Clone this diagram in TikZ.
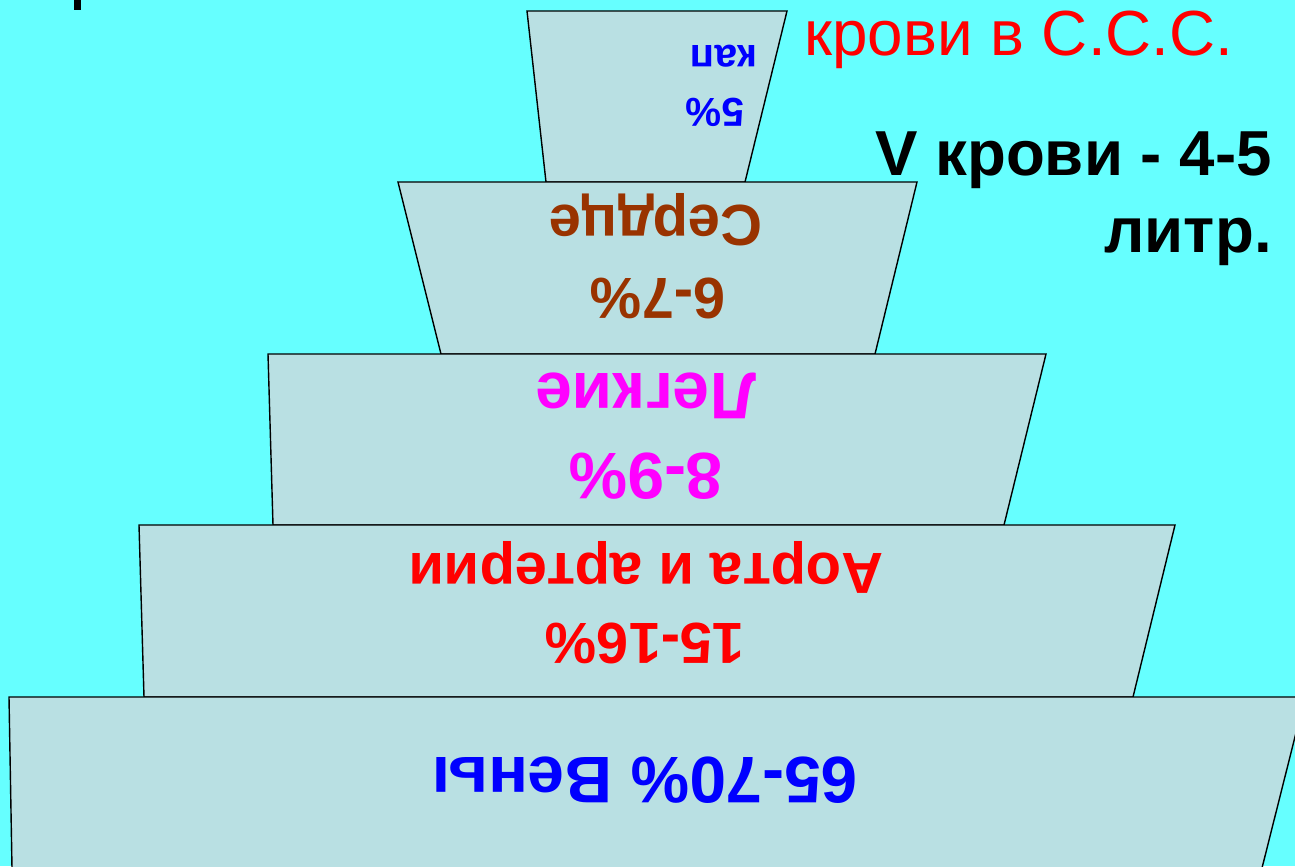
\documentclass[tikz,border=0pt]{standalone}
\usepackage{fontspec}
\setmainfont{Liberation Sans}
\usepackage{xcolor}
\usepackage{tikz}
\usetikzlibrary{positioning}
\definecolor{slidebg}{HTML}{66FFFF}
\definecolor{layerfill}{HTML}{B9E0E3}
\definecolor{heartbrown}{HTML}{993300}
\definecolor{lungpink}{HTML}{FF00FF}
\definecolor{vesselred}{HTML}{FF0000}
\definecolor{veinblue}{HTML}{0000FF}

\begin{document}
\begin{tikzpicture}[
  x=0.02cm, y=-0.02cm,
  layer/.style={draw=black, fill=layerfill, line width=0.8pt, line join=miter},
  flipped/.style={rotate=180, anchor=base, inner sep=0pt,
    font=\bfseries\fontsize{33}{36}\selectfont},
  flippedbig/.style={flipped, font=\bfseries\fontsize{37.5}{40}\selectfont},
  flippedsmall/.style={flipped, font=\bfseries\fontsize{23}{25}\selectfont},
  sidenote/.style={anchor=base east, inner sep=0pt,
    font=\bfseries\fontsize{36.2}{40}\selectfont},
  topnote/.style={anchor=base west, inner sep=0pt,
    font=\fontsize{36.3}{40}\selectfont, text=vesselred}
]
% ---------------- background ----------------
\fill[slidebg] (0,0) rectangle (1295,866);
\useasboundingbox (0,0) rectangle (1295,866);
\clip (0,0) rectangle (1295,866);
\fill[black] (74,0) rectangle (81,10);
% ---------------- layers, top to bottom ----------------
\filldraw[layer] (527,11) -- (787,11) -- (745,182) -- (546,182) -- cycle;
\filldraw[layer] (398,182) -- (917,182) -- (875,354) -- (441,354) -- cycle;
\filldraw[layer] (268,354) -- (1046,354) -- (1004,525) -- (273,525) -- cycle;
\filldraw[layer] (139,525) -- (1175,525) -- (1133,697) -- (144,697) -- cycle;
\filldraw[layer] (9,697) -- (1305,697) -- (1262,868) -- (12,868) -- cycle;
% ---------------- labels (upside down) ----------------
\node[flippedsmall, text=veinblue] (capname) at (724,45) {кап};
\node[flippedsmall, text=veinblue] (capval) at (715,98) {5\%};
\node[flipped, text=heartbrown] (heartname) at (656,205) {Сердце};
\node[flipped, text=heartbrown] (heartval) at (658,278) {6-7\%};
\node[flippedbig, text=lungpink] (lungname) at (646,373) {Легкие};
\node[flippedbig, text=lungpink] (lungval) at (646,453) {8-9\%};
\node[flipped, text=vesselred] (artname) at (646,553) {Аорта и артерии};
\node[flipped, text=vesselred] (artval) at (645,623) {15-16\%};
\node[flippedbig, text=veinblue] (veinname) at (645,757) {65-70\% Вены};
% ---------------- side notes ----------------
\node[topnote] (ssstitle) at (804,55) {крови в С.С.С.};
\node[sidenote] (volume) at (1272,175) {V крови - 4-5};
\node[sidenote] (volunit) at (1272,252) {литр.};
\end{tikzpicture}
\end{document}
